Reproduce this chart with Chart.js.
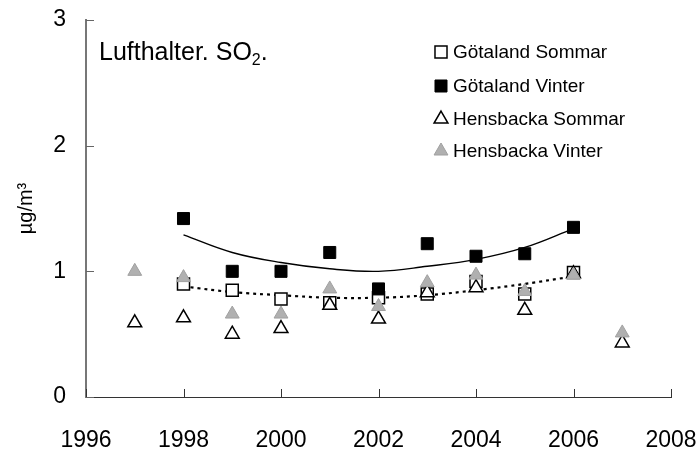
<!DOCTYPE html>
<html>
<head>
<meta charset="utf-8">
<script src="https://cdn.jsdelivr.net/npm/chart.js"></script>
<style>
  html,body{margin:0;padding:0;background:#fff;}
  #wrap{width:699px;height:450px;position:relative;}
</style>
</head>
<body>
<div id="wrap"><canvas id="c" width="699" height="450"></canvas></div>
<script>
// ---- data ----
const YEARS = [1997, 1998, 1999, 2000, 2001, 2002, 2003, 2004, 2005, 2006, 2007];
const GOT_SOMMAR = [null, 0.90, 0.85, 0.78, 0.75, 0.79, 0.82, 0.92, 0.82, 0.99, null];
const GOT_VINTER = [null, 1.42, 1.00, 1.00, 1.15, 0.86, 1.22, 1.12, 1.14, 1.35, null];
const HENS_SOMMAR = [0.59, 0.63, 0.50, 0.545, 0.73, 0.62, 0.83, 0.87, 0.69, 0.98, 0.43];
const HENS_VINTER = [1.00, 0.95, 0.66, 0.66, 0.86, 0.72, 0.91, 0.97, 0.84, 0.97, 0.51];

// trend curves (read at each year)
const TREND_YEARS = [1998, 1999, 2000, 2001, 2002, 2003, 2004, 2005, 2006];
const TREND_VINTER = [1.29, 1.15, 1.07, 1.02, 1.00, 1.04, 1.095, 1.19, 1.34];
const TREND_SOMMAR = [0.88, 0.835, 0.81, 0.79, 0.79, 0.81, 0.85, 0.90, 0.96];

const X_MIN = 1996, X_MAX = 2008, X_STEP = 2;
const Y_MIN = 0, Y_MAX = 3, Y_STEP = 1;

const FONT = '"Liberation Sans", Arial, sans-serif';
const GRAY = '#b0b0b0';

function pts(xs, ys){ return xs.map((x,i)=>({x:x, y:ys[i]})).filter(p=>p.y!==null); }

// ---- inner tick marks ----
const innerTicks = {
  id:'innerTicks',
  afterDraw(chart){
    const ctx = chart.ctx, a = chart.chartArea;
    const xs = chart.scales.x, ys = chart.scales.y;
    ctx.save();
    ctx.lineWidth = 1;
    ctx.strokeStyle = '#333';
    xs.ticks.forEach(t=>{
      const px = Math.round(xs.getPixelForValue(t.value)) + 0.5;
      ctx.beginPath(); ctx.moveTo(px, a.bottom); ctx.lineTo(px, a.bottom - 8); ctx.stroke();
    });
    ctx.strokeStyle = '#666';
    ys.ticks.forEach(t=>{
      const py = Math.round(ys.getPixelForValue(t.value)) + 0.5;
      ctx.beginPath(); ctx.moveTo(a.left, py); ctx.lineTo(a.left + 8, py); ctx.stroke();
    });
    ctx.restore();
  }
};

// ---- title with subscript ----
const titlePlugin = {
  id:'titleSub',
  afterDraw(chart){
    const ctx = chart.ctx;
    ctx.save();
    ctx.fillStyle = '#000';
    ctx.textBaseline = 'alphabetic';
    ctx.font = '25px ' + FONT;
    let x = 99;
    const base = 60;
    const t1 = 'Lufthalter. SO';
    ctx.fillText(t1, x, base);
    x += ctx.measureText(t1).width;
    ctx.font = '16px ' + FONT;
    ctx.fillText('2', x, base + 5);
    x += ctx.measureText('2').width;
    ctx.font = '25px ' + FONT;
    ctx.fillText('.', x, base);
    ctx.restore();
  }
};

// ---- legend inside the plot ----
const legendPlugin = {
  id:'innerLegend',
  afterDraw(chart){
    const ctx = chart.ctx;
    const rows = [52, 86, 119, 151];
    let r = 0;
    ctx.save();
    chart.data.datasets.forEach(ds=>{
      if(!ds.inLegend) return;
      const y = rows[r++];
      ctx.fillStyle = ds.backgroundColor; ctx.strokeStyle = ds.borderColor; ctx.lineWidth = ds.borderWidth;
      Chart.helpers.drawPoint(ctx, {pointStyle: ds.pointStyle, radius: ds.pointRadius, rotation: 0, borderWidth: ds.borderWidth}, 441, y);
      ctx.fillStyle = '#000';
      ctx.font = '19px ' + FONT;
      ctx.textBaseline = 'middle';
      ctx.fillText(ds.label, 453, y + 1);
    });
    ctx.restore();
  }
};

const ctx = document.getElementById('c').getContext('2d');
new Chart(ctx, {
  type: 'scatter',
  data: {
    datasets: [
      {label:'Götaland Sommar', inLegend:true, order:4, data: pts(YEARS, GOT_SOMMAR),
       pointStyle:'rect', pointRadius:8.5, backgroundColor:'#fff', borderColor:'#000', borderWidth:1.5},
      {label:'Götaland Vinter', inLegend:true, order:3, data: pts(YEARS, GOT_VINTER),
       pointStyle:'rect', pointRadius:8.5, backgroundColor:'#000', borderColor:'#000', borderWidth:1},
      {label:'Hensbacka Sommar', inLegend:true, order:2, data: pts(YEARS, HENS_SOMMAR),
       pointStyle:'triangle', pointRadius:8, backgroundColor:'#fff', borderColor:'#000', borderWidth:1.5},
      {label:'Hensbacka Vinter', inLegend:true, order:1, data: pts(YEARS, HENS_VINTER),
       pointStyle:'triangle', pointRadius:8, backgroundColor:GRAY, borderColor:'#a0a0a0', borderWidth:1},
      {label:'trend vinter', order:6, data: pts(TREND_YEARS, TREND_VINTER), showLine:true, tension:0.4,
       pointRadius:0, borderColor:'#000', borderWidth:1.4},
      {label:'trend sommar', order:5, data: pts(TREND_YEARS, TREND_SOMMAR), showLine:true, tension:0.4,
       pointRadius:0, borderColor:'#000', borderWidth:2.2, borderDash:[3,4]}
    ]
  },
  options: {
    responsive:false, animation:false,
    layout:{ padding:{ left:0, top:20, right:28, bottom:0 } },
    plugins:{ legend:{display:false}, tooltip:{enabled:false} },
    elements:{ point:{ hoverRadius:0 } },
    scales:{
      x:{
        type:'linear', min:X_MIN, max:X_MAX,
        afterFit(s){ s.height = 53; s.paddingLeft = 0; s.paddingRight = 0; },
        grid:{ display:false, drawTicks:false },
        border:{ display:true, color:'#333', width:1 },
        ticks:{ stepSize:X_STEP, padding:30, color:'#000', font:{ family:FONT, size:23 },
          callback:v=>String(v), maxRotation:0 }
      },
      y:{
        min:Y_MIN, max:Y_MAX,
        afterFit(s){ s.width = 86; s.paddingTop = 0; s.paddingBottom = 0; },
        grid:{ display:false, drawTicks:false },
        border:{ display:true, color:'#777', width:2 },
        ticks:{ stepSize:Y_STEP, padding:20, color:'#000', font:{ family:FONT, size:23 } },
        title:{ display:true, text:'µg/m³', color:'#000', font:{ family:FONT, size:20 }, padding:{ top:14, bottom:0 } }
      }
    }
  },
  plugins:[innerTicks, titlePlugin, legendPlugin]
});
</script>
</body>
</html>
